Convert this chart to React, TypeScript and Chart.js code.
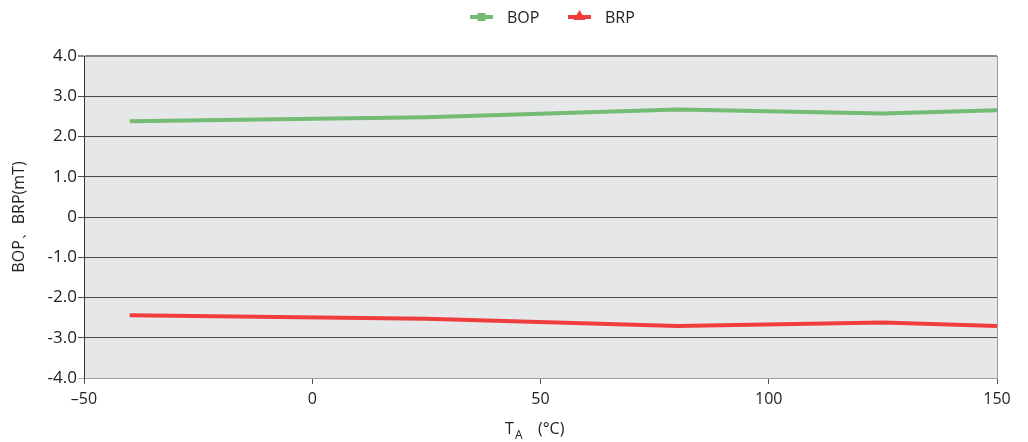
import React, { useEffect, useRef } from "react";
import { Chart, registerables } from "chart.js";

Chart.register(...registerables);

const temps = [-40, 25, 80, 125, 150];
const bopValues = [2.38, 2.48, 2.67, 2.57, 2.65];
const brpValues = [-2.44, -2.53, -2.71, -2.62, -2.71];
const seriesNames = ["BOP", "BRP"];
const yTitle = "BOP、BRP(mT)";
const xTitleMain = "T";
const xTitleSub = "A";
const xTitleUnit = "(°C)";

const GREEN = "#74bb74";
const RED = "#f03c3c";
const FONT = "'Open Sans', 'Noto Sans', sans-serif";

const decorPlugin = {
  id: "decor",
  beforeDraw(chart: any) {
    const { ctx, chartArea } = chart;
    ctx.save();
    ctx.fillStyle = "#e6e7e9";
    ctx.fillRect(chartArea.left, chartArea.top, chartArea.right - chartArea.left, chartArea.bottom - chartArea.top);
    ctx.restore();
  },
  afterDraw(chart: any) {
    const { ctx, chartArea } = chart;
    ctx.save();
    // right border
    ctx.strokeStyle = "#9a9a9a";
    ctx.lineWidth = 1;
    ctx.beginPath();
    ctx.moveTo(chartArea.right + 0.5, chartArea.top);
    ctx.lineTo(chartArea.right + 0.5, chartArea.bottom);
    ctx.stroke();

    // y title
    ctx.fillStyle = "#222";
    ctx.font = `16px ${FONT}`;
    ctx.textAlign = "center";
    ctx.textBaseline = "middle";
    ctx.save();
    ctx.translate(19, (chartArea.top + chartArea.bottom) / 2);
    ctx.rotate(-Math.PI / 2);
    ctx.fillText(yTitle, 0, 0);
    ctx.restore();

    // x title
    const ty = 428;
    ctx.textAlign = "left";
    ctx.textBaseline = "alphabetic";
    ctx.font = `16px ${FONT}`;
    ctx.fillText(xTitleMain, 505, ty + 6);
    ctx.font = `12px ${FONT}`;
    ctx.fillText(xTitleSub, 515, ty + 11);
    ctx.font = `16px ${FONT}`;
    ctx.fillText(xTitleUnit, 538, ty + 6);

    // legend
    const items = [
      { name: seriesNames[0], color: GREEN, style: "rect", x: 470 },
      { name: seriesNames[1], color: RED, style: "tri", x: 568 },
    ];
    const ly = 17;
    items.forEach((it) => {
      ctx.strokeStyle = it.color;
      ctx.fillStyle = it.color;
      ctx.lineWidth = 4;
      ctx.beginPath();
      ctx.moveTo(it.x, ly);
      ctx.lineTo(it.x + 23, ly);
      ctx.stroke();
      const mx = it.x + 11.5;
      if (it.style === "rect") {
        ctx.fillRect(mx - 4, ly - 4, 8, 8);
      } else {
        ctx.beginPath();
        ctx.moveTo(mx, ly - 7);
        ctx.lineTo(mx + 6, ly + 3);
        ctx.lineTo(mx - 6, ly + 3);
        ctx.closePath();
        ctx.fill();
      }
      ctx.fillStyle = "#222";
      ctx.font = `16px ${FONT}`;
      ctx.textAlign = "left";
      ctx.textBaseline = "middle";
      ctx.fillText(it.name, it.x + 37, ly + 1);
    });
    ctx.restore();
  },
};

export default function App() {
  const ref = useRef<HTMLCanvasElement | null>(null);
  useEffect(() => {
    if (!ref.current) return;
    const chart = new Chart(ref.current, {
      type: "line",
      data: {
        datasets: [
          {
            label: seriesNames[0],
            data: temps.map((t, i) => ({ x: t, y: bopValues[i] })),
            borderColor: GREEN,
            backgroundColor: GREEN,
            borderWidth: 4,
            pointRadius: 0,
            tension: 0,
          },
          {
            label: seriesNames[1],
            data: temps.map((t, i) => ({ x: t, y: brpValues[i] })),
            borderColor: RED,
            backgroundColor: RED,
            borderWidth: 4,
            pointRadius: 0,
            tension: 0,
          },
        ],
      },
      options: {
        responsive: true,
        maintainAspectRatio: false,
        animation: false,
        layout: { padding: { top: 56, right: 31, left: 0, bottom: 0 } },
        plugins: { legend: { display: false }, tooltip: { enabled: false } },
        scales: {
          x: {
            type: "linear",
            min: -50,
            max: 150,
            ticks: {
              stepSize: 50,
              color: "#222",
              font: { family: FONT, size: 16 },
              padding: 6,
              maxRotation: 0,
              callback: (v: any) => (Number(v) < 0 ? "–" + Math.abs(Number(v)) : String(v)),
            },
            grid: { drawOnChartArea: false, drawTicks: true, tickLength: 6, color: "#555" },
            border: { color: "#a0a0a0", width: 1 },
            afterFit: (s: any) => {
              s.height = 64;
            },
          },
          y: {
            min: -4,
            max: 4,
            ticks: {
              stepSize: 1,
              color: "#222",
              font: { family: FONT, size: 17 },
              padding: 1,
              callback: (v: any) => (Number(v) === 0 ? "0" : Number(v).toFixed(1)),
            },
            grid: {
              drawTicks: true,
              tickLength: 6,
              color: (c: any) => {
                const v = c.tick ? c.tick.value : 0;
                if (v === 4) return "#8a8a8a";
                if (v === -4) return "#a8a8a8";
                return "#4a4a4a";
              },
              lineWidth: (c: any) => (c.tick && c.tick.value === 4 ? 2 : 1),
            },
            border: { color: "#333", width: 1 },
            afterFit: (s: any) => {
              s.width = 84;
            },
          },
        },
      },
      plugins: [decorPlugin],
    } as any);
    return () => chart.destroy();
  }, []);
  return (
    <div style={{ position: "fixed", left: 0, top: 0, width: 1028, height: 442, background: "#fff" }}>
      <canvas ref={ref} />
    </div>
  );
}
